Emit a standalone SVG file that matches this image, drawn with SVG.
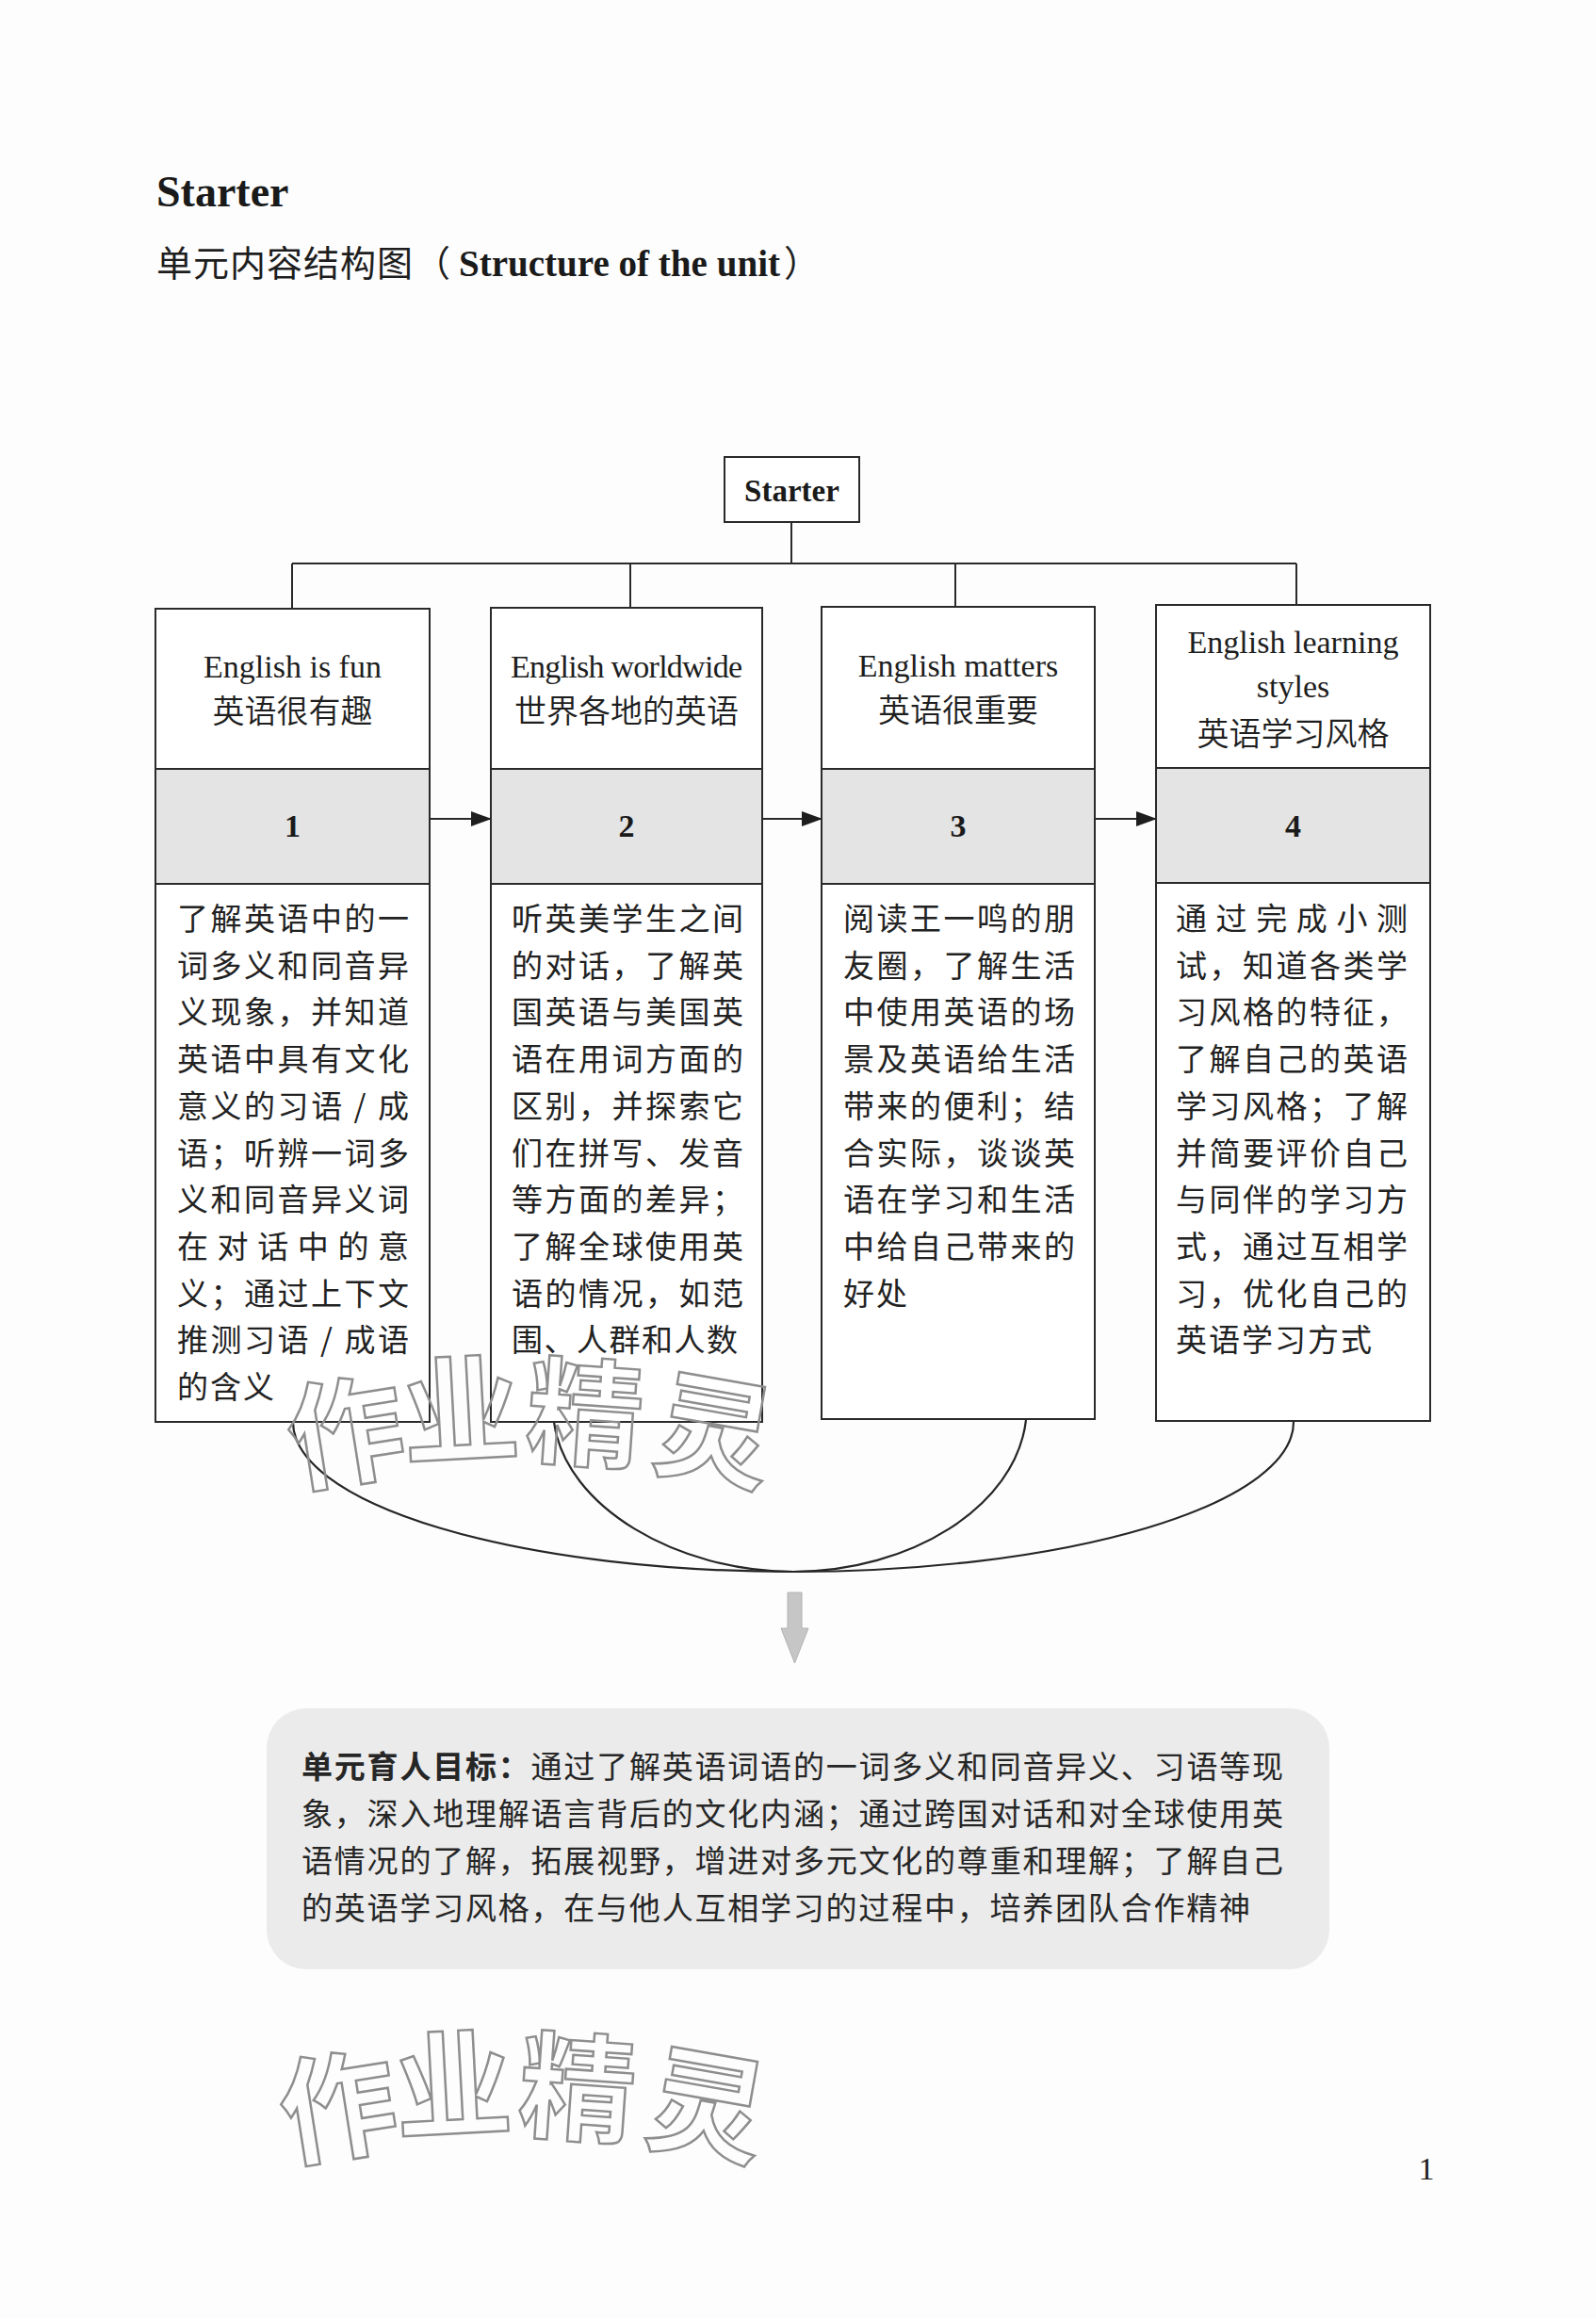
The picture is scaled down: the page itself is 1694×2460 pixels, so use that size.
<svg xmlns="http://www.w3.org/2000/svg" width="1694" height="2460" viewBox="0 0 1694 2460">
<style>
.en{font-family:"Liberation Serif","Times New Roman",serif;font-size:34px;fill:#1e1e1e;text-anchor:middle}
.enb{font-family:"Liberation Serif","Times New Roman",serif;font-weight:bold;fill:#1a1a1a}
.cn{font-family:"Noto Sans CJK SC","Noto Sans CJK TC",sans-serif;fill:#1e1e1e}
.hd{font-size:34px;font-weight:350;text-anchor:middle}
.bt{font-family:"Noto Sans CJK SC","Noto Sans CJK TC",sans-serif;font-size:33px;font-weight:400;fill:#222}
.ls{letter-spacing:2px}
.num{font-family:"Liberation Serif","Times New Roman",serif;font-weight:bold;font-size:34px;fill:#1a1a1a;text-anchor:middle}
.frame{fill:#fff;stroke:#2a2a2a;stroke-width:2}
.band{fill:#e4e4e4;stroke:#2a2a2a;stroke-width:2}
.ln{fill:none;stroke:#2a2a2a;stroke-width:2}
.cv{fill:none;stroke:#262626;stroke-width:2.2}
.gt{font-family:"Noto Sans CJK SC","Noto Sans CJK TC",sans-serif;font-size:33px;fill:#262626}
.wm{font-family:"Noto Sans CJK SC",sans-serif;font-weight:700;font-size:124px;fill:none;stroke:#8e8e8e;stroke-width:2.5;text-anchor:middle}
</style>
<defs>
<marker id="ah" markerUnits="userSpaceOnUse" markerWidth="22" markerHeight="16" refX="21" refY="8" orient="auto">
<path d="M0,0 L22,8 L0,16 Z" fill="#1e1e1e"/>
</marker>
</defs>
<rect x="0" y="0" width="1694" height="2460" fill="#fdfdfd"/>

<g id="heading">
<text class="enb" x="166" y="219" font-size="46">Starter</text>
<text class="cn" x="166" y="293" font-size="38" letter-spacing="1">单元内容结构图</text>
<text class="cn" x="440" y="293" font-size="38">（</text>
<text class="enb" x="487" y="293" font-size="40" textLength="341" lengthAdjust="spacingAndGlyphs">Structure of the unit</text>
<text class="cn" x="832" y="293" font-size="38">）</text>
</g>

<g id="connectors">
<path class="ln" d="M840,554 V598 M310,598 H1376 M310,598 V646 M669,598 V645 M1014,598 V644 M1376,598 V642"/>
<line class="ln" x1="456" y1="869" x2="521" y2="869" marker-end="url(#ah)"/>
<line class="ln" x1="809" y1="869" x2="872" y2="869" marker-end="url(#ah)"/>
<line class="ln" x1="1162" y1="869" x2="1227" y2="869" marker-end="url(#ah)"/>
<path class="cv" d="M311,1509 A531,159 0 0 0 1373,1509"/>
<path class="cv" d="M588,1509 C600,1600 720,1668 842,1668 C965,1668 1078,1600 1089,1507"/>
<path d="M836,1690 H851 V1728 H858 L843.5,1765 L829,1728 H836 Z" fill="#c6c6c6" stroke="#b2b2b2" stroke-width="1"/>
</g>

<g id="starter">
<rect class="frame" x="769" y="485" width="143" height="69"/>
<text class="enb" x="840.5" y="532" font-size="33" text-anchor="middle">Starter</text>
</g>

<g id="box1">
<rect class="frame" x="165" y="646" width="291" height="863"/>
<rect class="band" x="165" y="816" width="291" height="122"/>
<text class="en" x="310.5" y="719">English is fun</text>
<text class="cn hd" x="310.5" y="767">英语很有趣</text>
<text class="num" x="310.5" y="888">1</text>
<text class="bt" x="188" y="987" textLength="246">了解英语中的一</text>
<text class="bt" x="188" y="1037" textLength="246">词多义和同音异</text>
<text class="bt" x="188" y="1086" textLength="246">义现象，并知道</text>
<text class="bt" x="188" y="1136" textLength="246">英语中具有文化</text>
<text class="bt" x="188" y="1186" textLength="246">意义的习语 / 成</text>
<text class="bt" x="188" y="1236" textLength="246">语；听辨一词多</text>
<text class="bt" x="188" y="1285" textLength="246">义和同音异义词</text>
<text class="bt" x="188" y="1335" textLength="246">在对话中的意</text>
<text class="bt" x="188" y="1385" textLength="246">义；通过上下文</text>
<text class="bt" x="188" y="1434" textLength="246">推测习语 / 成语</text>
<text class="bt ls" x="188" y="1484">的含义</text>
</g>

<g id="box2">
<rect class="frame" x="521" y="645" width="288" height="864"/>
<rect class="band" x="521" y="816" width="288" height="122"/>
<text class="en" x="665" y="719" textLength="246">English worldwide</text>
<text class="cn hd" x="665" y="767">世界各地的英语</text>
<text class="num" x="665" y="888">2</text>
<text class="bt" x="543" y="987" textLength="246">听英美学生之间</text>
<text class="bt" x="543" y="1037" textLength="246">的对话，了解英</text>
<text class="bt" x="543" y="1086" textLength="246">国英语与美国英</text>
<text class="bt" x="543" y="1136" textLength="246">语在用词方面的</text>
<text class="bt" x="543" y="1186" textLength="246">区别，并探索它</text>
<text class="bt" x="543" y="1236" textLength="246">们在拼写、发音</text>
<text class="bt" x="543" y="1285" textLength="246">等方面的差异；</text>
<text class="bt" x="543" y="1335" textLength="246">了解全球使用英</text>
<text class="bt" x="543" y="1385" textLength="246">语的情况，如范</text>
<text class="bt" x="543" y="1434" textLength="240">围、人群和人数</text>
</g>

<g id="box3">
<rect class="frame" x="872" y="644" width="290" height="862"/>
<rect class="band" x="872" y="816" width="290" height="122"/>
<text class="en" x="1017" y="718">English matters</text>
<text class="cn hd" x="1017" y="766">英语很重要</text>
<text class="num" x="1017" y="888">3</text>
<text class="bt" x="895" y="987" textLength="246">阅读王一鸣的朋</text>
<text class="bt" x="895" y="1037" textLength="246">友圈，了解生活</text>
<text class="bt" x="895" y="1086" textLength="246">中使用英语的场</text>
<text class="bt" x="895" y="1136" textLength="246">景及英语给生活</text>
<text class="bt" x="895" y="1186" textLength="246">带来的便利；结</text>
<text class="bt" x="895" y="1236" textLength="246">合实际，谈谈英</text>
<text class="bt" x="895" y="1285" textLength="246">语在学习和生活</text>
<text class="bt" x="895" y="1335" textLength="246">中给自己带来的</text>
<text class="bt ls" x="895" y="1385">好处</text>
</g>

<g id="box4">
<rect class="frame" x="1227" y="642" width="291" height="866"/>
<rect class="band" x="1227" y="815" width="291" height="122"/>
<text class="en" x="1372.5" y="693">English learning</text>
<text class="en" x="1372.5" y="740">styles</text>
<text class="cn hd" x="1372.5" y="791">英语学习风格</text>
<text class="num" x="1372.5" y="888">4</text>
<text class="bt" x="1248" y="987" textLength="246">通过完成小测</text>
<text class="bt" x="1248" y="1037" textLength="246">试，知道各类学</text>
<text class="bt" x="1248" y="1086" textLength="246">习风格的特征，</text>
<text class="bt" x="1248" y="1136" textLength="246">了解自己的英语</text>
<text class="bt" x="1248" y="1186" textLength="246">学习风格；了解</text>
<text class="bt" x="1248" y="1236" textLength="246">并简要评价自己</text>
<text class="bt" x="1248" y="1285" textLength="246">与同伴的学习方</text>
<text class="bt" x="1248" y="1335" textLength="246">式，通过互相学</text>
<text class="bt" x="1248" y="1385" textLength="246">习，优化自己的</text>
<text class="bt ls" x="1248" y="1434">英语学习方式</text>
</g>

<g id="goal">
<rect x="283" y="1813" width="1128" height="277" rx="42" fill="#ebebeb"/>
<text class="gt" x="320" y="1887" textLength="1042"><tspan font-weight="bold">单元育人目标：</tspan>通过了解英语词语的一词多义和同音异义、习语等现</text>
<text class="gt" x="320" y="1937" textLength="1042">象，深入地理解语言背后的文化内涵；通过跨国对话和对全球使用英</text>
<text class="gt" x="320" y="1987" textLength="1042">语情况的了解，拓展视野，增进对多元文化的尊重和理解；了解自己</text>
<text class="gt" x="320" y="2037" textLength="1007">的英语学习风格，在与他人互相学习的过程中，培养团队合作精神</text>
</g>

<g id="watermark-1" transform="translate(8,-716)">
<text class="wm" transform="translate(359,2238) rotate(-9)" x="0" y="44">作</text>
<text class="wm" transform="translate(481,2215) rotate(-3)" x="0" y="44">业</text>
<text class="wm" transform="translate(613,2218) rotate(4)" x="0" y="44">精</text>
<text class="wm" transform="translate(750,2237) rotate(10)" x="0" y="44">灵</text>
</g>
<g id="watermark-2">
<text class="wm" transform="translate(359,2238) rotate(-9)" x="0" y="44">作</text>
<text class="wm" transform="translate(481,2215) rotate(-3)" x="0" y="44">业</text>
<text class="wm" transform="translate(613,2218) rotate(4)" x="0" y="44">精</text>
<text class="wm" transform="translate(750,2237) rotate(10)" x="0" y="44">灵</text>
</g>

<text x="1514" y="2313" font-family="Liberation Serif, Times New Roman, serif" font-size="34" fill="#1e1e1e" text-anchor="middle">1</text>
</svg>
